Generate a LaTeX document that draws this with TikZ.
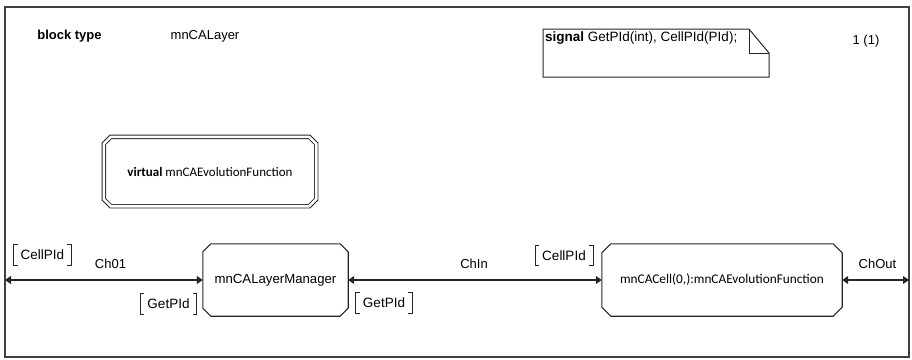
\documentclass[tikz,border=0pt]{standalone}
\usepackage{fontspec}
\setmainfont{Liberation Sans}
\newfontfamily\calib{Carlito}
\usetikzlibrary{arrows.meta}
\tikzset{
  boxline/.style={line width=1.1pt, draw=black!85},
  conn/.style={line width=1.1pt, draw=black!85, {Triangle[length=6pt,width=8pt]}-{Triangle[length=6pt,width=8pt]}},
  lbl/.style={font=\fontsize{13}{15}\selectfont, inner sep=0pt},
  sig/.style={font=\fontsize{13.5}{16}\selectfont, inner sep=0pt, minimum height=20pt, inner xsep=7pt},
  blk/.style={inner sep=0pt, minimum height=72pt},
}
\newcommand\chamfbox[3][]{\draw[boxline,#1] ([xshift=#3]#2.north west) -- ([xshift=-#3]#2.north east) -- ([yshift=-#3]#2.north east) -- ([yshift=#3]#2.south east) -- ([xshift=-#3]#2.south east) -- ([xshift=#3]#2.south west) -- ([yshift=#3]#2.south west) -- ([yshift=-#3]#2.north west) -- cycle;}
\newcommand\brk[1]{\draw[line width=0.9pt, black!85] ([xshift=4pt]#1.north west) -- (#1.north west) -- (#1.south west) -- ([xshift=4pt]#1.south west);
  \draw[line width=0.9pt, black!85] ([xshift=-4pt]#1.north east) -- (#1.north east) -- (#1.south east) -- ([xshift=-4pt]#1.south east);}
\begin{document}
\begin{tikzpicture}[x=1pt,y=-1pt]
\useasboundingbox (0,0) rectangle (912,359);
% frame
\draw[line width=1.4pt, black!75] (5,7) rectangle (909,357);
\node[lbl, font=\fontsize{13}{15}\selectfont\bfseries] (bt) at (69.5,36) {block type};
\node[lbl] (bn) at (205,36) {mnCALayer};
\node[lbl] (pg) at (866,41) {1 (1)};
% signal note
\draw[line width=1pt, black!85] (543,29) -- (749,29) -- (769,53) -- (769,77) -- (543,77) -- cycle;
\draw[line width=1pt, black!85] (749,29) -- (749,53) -- (769,53);
\node[lbl, anchor=west, font=\fontsize{13.5}{16}\selectfont] (sg) at (545,38) {\textbf{signal} GetPId(int), CellPId(PId);};
% virtual box
\node[blk, minimum width=212pt, minimum height=69pt, font=\calib\fontsize{13}{15}\selectfont] (vb) at (210,171.5) {\textbf{virtual} mnCAEvolutionFunction};
\chamfbox[double, double distance=2.6pt, line width=0.9pt]{vb}{7pt}
% blocks
\node[blk, minimum width=145pt, font=\fontsize{13.2}{15}\selectfont] (lm) at (275.5,280) {mnCALayerManager};
\chamfbox{lm}{8pt}
\node[blk, minimum width=240pt, font=\calib\fontsize{13.3}{15}\selectfont] (cc) at (722,280) {mnCACell(0,):mnCAEvolutionFunction};
\chamfbox{cc}{9pt}
% channel ends
\coordinate (le) at (5,280);
\coordinate (re) at (909,280);
\draw[conn] (le) -- (lm.west);
\draw[conn] (lm.east) -- (cc.west);
\draw[conn] (cc.east) -- (re);
% channel labels
\node[lbl] (c1) at (110.5,264) {Ch01};
\node[lbl] (c2) at (474,264) {ChIn};
\node[lbl] (c3) at (877.5,264) {ChOut};
% signal lists
\node[sig] (s1) at (42.5,255) {CellPId};
\brk{s1}
\node[sig] (s2) at (168.5,304) {GetPId};
\brk{s2}
\node[sig] (s3) at (384,303) {GetPId};
\brk{s3}
\node[sig] (s4) at (564,255.5) {CellPId};
\brk{s4}
\end{tikzpicture}
\end{document}
